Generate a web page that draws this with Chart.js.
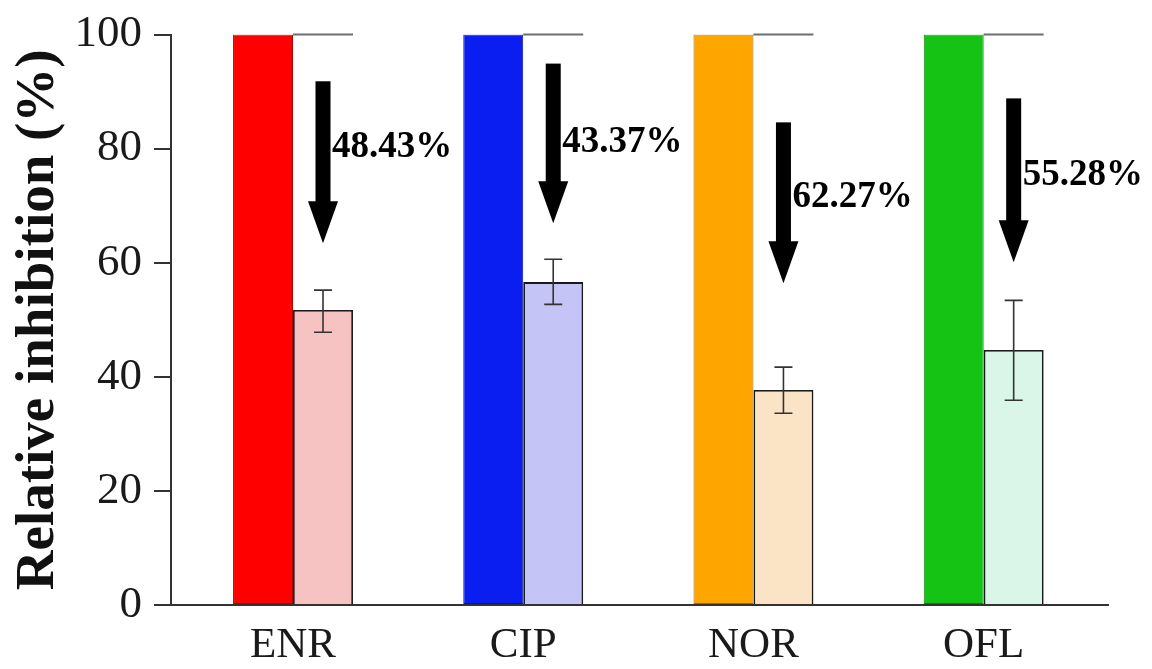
<!DOCTYPE html>
<html>
<head>
<meta charset="utf-8">
<script src="https://cdn.jsdelivr.net/npm/chart.js@4.4.0/dist/chart.umd.min.js"></script>
<style>
  html, body { margin: 0; padding: 0; background: #fff; }
  #wrap { width: 1152px; height: 669px; }
</style>
</head>
<body>
<div id="wrap"><canvas id="chart"></canvas></div>
<script>
// data
const categories = ["ENR", "CIP", "NOR", "OFL"];
const controlValues = [100, 100, 100, 100];
const treatedValues = [51.7, 56.6, 37.7, 44.7];
const treatedErrLow = [47.8, 52.7, 33.6, 35.9];
const treatedErrHigh = [55.2, 60.6, 41.7, 53.4];
const reductionLabels = ["48.43%", "43.37%", "62.27%", "55.28%"];
const arrowTop = [91.8, 94.9, 84.6, 88.8];
const arrowTip = [63.4, 66.9, 56.4, 60.1];
const labelLevel = [80.2, 81.1, 71.5, 75.3];
const yTicks = [0, 20, 40, 60, 80, 100];

// colours
const solidColors = ["#ff0000", "#0a1ef2", "#ffa500", "#14c314"];
const solidBorders = ["#b00000", "#0a1490", "#a06a00", "#0d800d"];
const lightColors = ["#f6c2c2", "#c4c4f6", "#fbe3c6", "#daf6e8"];

const serif = '"Liberation Serif", "Times New Roman", serif';

// arrows, error bars and labels on top of the bars
const annotations = {
  id: "annotations",
  afterDatasetsDraw(chart) {
    const ctx = chart.ctx;
    const y = chart.scales.y;
    const bars = chart.getDatasetMeta(1).data;
    ctx.save();
    bars.forEach((bar, i) => {
      const cx = bar.x;
      const half = bar.width / 2;

      // grey line at 100 over the treated bar
      ctx.strokeStyle = "#6e6e6e";
      ctx.lineWidth = 2;
      ctx.beginPath();
      ctx.moveTo(cx - half, y.getPixelForValue(100));
      ctx.lineTo(cx + half, y.getPixelForValue(100));
      ctx.stroke();

      // error bar
      const yLo = y.getPixelForValue(treatedErrLow[i]);
      const yHi = y.getPixelForValue(treatedErrHigh[i]);
      ctx.strokeStyle = "#333";
      ctx.lineWidth = 1.6;
      ctx.beginPath();
      ctx.moveTo(cx, yLo);
      ctx.lineTo(cx, yHi);
      ctx.moveTo(cx - 9, yLo);
      ctx.lineTo(cx + 9, yLo);
      ctx.moveTo(cx - 9, yHi);
      ctx.lineTo(cx + 9, yHi);
      ctx.stroke();

      // arrow
      const top = y.getPixelForValue(arrowTop[i]);
      const tip = y.getPixelForValue(arrowTip[i]);
      const headLen = 42;
      ctx.fillStyle = "#000";
      ctx.fillRect(cx - 7.5, top, 15, tip - headLen - top + 1);
      ctx.beginPath();
      ctx.moveTo(cx - 15, tip - headLen);
      ctx.lineTo(cx + 15, tip - headLen);
      ctx.lineTo(cx, tip);
      ctx.closePath();
      ctx.fill();

      // percentage text
      ctx.font = "bold 37px " + serif;
      ctx.textAlign = "left";
      ctx.textBaseline = "middle";
      ctx.fillText(reductionLabels[i], cx + 9, y.getPixelForValue(labelLevel[i]));
    });
    ctx.restore();
  }
};

new Chart(document.getElementById("chart"), {
  type: "bar",
  data: {
    datasets: [
      {
        data: controlValues.map((v, i) => ({ x: i + 1, y: v })),
        backgroundColor: solidColors,
        borderColor: solidBorders,
        borderWidth: 1,
        borderSkipped: false,
      },
      {
        data: treatedValues.map((v, i) => ({ x: i + 1, y: v })),
        backgroundColor: lightColors,
        borderColor: "#1a1a1a",
        borderWidth: 1.8,
        borderSkipped: "bottom",
      },
    ],
  },
  options: {
    responsive: true,
    maintainAspectRatio: false,
    animation: false,
    layout: { padding: { top: 0, right: 44, bottom: 0, left: 0 } },
    datasets: {
      bar: { categoryPercentage: 0.521, barPercentage: 1, grouped: true },
    },
    plugins: {
      legend: { display: false },
      tooltip: { enabled: false },
    },
    scales: {
      x: {
        type: "linear",
        min: 0.47,
        max: 4.54,
        offset: false,
        afterBuildTicks: (s) => {
          s.ticks = categories.map((c, i) => ({ value: i + 1 }));
        },
        afterFit: (s) => {
          s.height = 64;
        },
        ticks: {
          callback: (v) => categories[Math.round(v) - 1],
          font: { family: serif, size: 43 },
          color: "#1a1a1a",
          padding: 15,
          maxRotation: 0,
          autoSkip: false,
        },
        grid: { display: false, drawTicks: false, offset: false },
        border: { color: "#333", width: 2 },
      },
      y: {
        min: 0,
        max: 100,
        afterBuildTicks: (s) => {
          s.ticks = yTicks.map((v) => ({ value: v }));
        },
        afterFit: (s) => {
          s.width = 171;
        },
        ticks: {
          font: { family: serif, size: 45, lineHeight: 1 },
          color: "#1a1a1a",
          padding: 12,
        },
        grid: {
          drawOnChartArea: false,
          tickLength: 17,
          color: "#333",
          lineWidth: 2,
        },
        border: { color: "#333", width: 2 },
        title: {
          display: true,
          text: "Relative inhibition (%)",
          font: { family: serif, size: 55, weight: "bold" },
          color: "#111",
          padding: { top: 6, bottom: 0 },
        },
      },
    },
  },
  plugins: [annotations],
});
</script>
</body>
</html>
